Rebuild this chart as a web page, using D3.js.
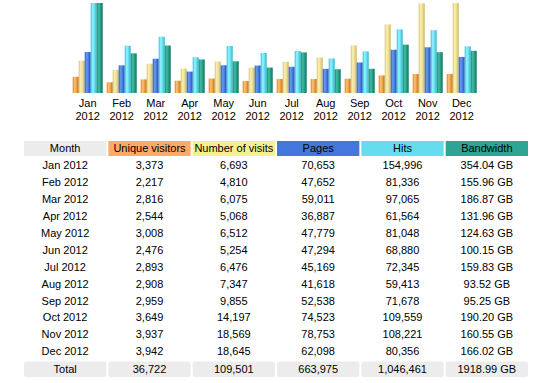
<!DOCTYPE html>
<html><head><meta charset="utf-8">
<script src="https://cdnjs.cloudflare.com/ajax/libs/d3/7.8.5/d3.min.js"></script>
<style>
html,body{margin:0;padding:0;background:#fff;}
svg text{font-family:"Liberation Sans",Arial,sans-serif;font-size:11px;fill:#000;}
</style></head>
<body><svg id="c" width="547" height="383"></svg>
<script>
const months = ["Jan","Feb","Mar","Apr","May","Jun","Jul","Aug","Sep","Oct","Nov","Dec"];
const year = "2012";
const visitors = [3373,2217,2816,2544,3008,2476,2893,2908,2959,3649,3937,3942];
const visits = [6693,4810,6075,5068,6512,5254,6476,7347,9855,14197,18569,18645];
const pages = [70653,47652,59011,36887,47779,47294,45169,41618,52538,74523,78753,62098];
const hits = [154996,81336,97065,61564,81048,68880,72345,59413,71678,109559,108221,80356];
const bandwidth = [354.04,155.96,186.87,131.96,124.63,100.15,159.83,93.52,95.25,190.20,160.55,166.02];
const headers = ["Month","Unique visitors","Number of visits","Pages","Hits","Bandwidth"];
const totals = ["Total","36,722","109,501","663,975","1,046,461","1918.99 GB"];

const svg = d3.select("#c");
const defs = svg.append("defs");
const grads = {
  u:["#d9862a","#fbc47a","#e8963c","#b86a1a"],
  v:["#d4c474","#faf2b4","#e6d888","#c4b464"],
  p:["#2f5fc8","#6d9af0","#3f70d8","#2850b0"],
  h:["#3cbcd4","#94f6ff","#5ad8ec","#34b4cc"],
  k:["#1a8a74","#44bca2","#1e9880","#0e6e5c"]
};
Object.entries(grads).forEach(([k,c])=>{
  const g = defs.append("linearGradient").attr("id","g"+k).attr("x1","0").attr("x2","1").attr("y1","0").attr("y2","0");
  [0,0.35,0.7,1].forEach((o,i)=>g.append("stop").attr("offset",o).attr("stop-color",c[i]));
});

const base = 93, H = 90;
const x = d3.scaleBand().domain(months).range([70.7, 70.7+12*34]).paddingInner(4/34).paddingOuter(2/34);
const sub = d3.scaleBand().domain(["u","v","p","h","k"]).range([0, x.bandwidth()]);
const yV = d3.scaleLinear().domain([0, d3.max(visits)]).range([0, H]);
const yH = d3.scaleLinear().domain([0, d3.max(hits)]).range([0, H]);
const yK = d3.scaleLinear().domain([0, d3.max(bandwidth)]).range([0, H]);
const series = [
  {k:"u", data:visitors, s:yV},
  {k:"v", data:visits, s:yV},
  {k:"p", data:pages, s:yH},
  {k:"h", data:hits, s:yH},
  {k:"k", data:bandwidth, s:yK}
];
const gBars = svg.append("g");
series.forEach(se=>{
  gBars.selectAll(null).data(months).enter().append("rect")
    .attr("x", (m)=>x(m)+sub(se.k))
    .attr("width", sub.bandwidth())
    .attr("y", (m,i)=>base - se.s(se.data[i]))
    .attr("height", (m,i)=>se.s(se.data[i]))
    .attr("fill", "url(#g"+se.k+")");
});
const lab = svg.append("g");
months.forEach(m=>{
  const cx = x(m)+x.bandwidth()/2;
  lab.append("text").attr("x",cx).attr("y",107).attr("text-anchor","middle").text(m);
  lab.append("text").attr("x",cx).attr("y",120).attr("text-anchor","middle").text(year);
});

// table
const colX = d3.scaleBand().domain(d3.range(6)).range([24, 24+6*84]).paddingInner(2/84).paddingOuter(0);
const hdrColors = ["#ececec","#ffaa66","#f4f090","#4477dd","#66ddee","#2ea495"];
const tbl = svg.append("g");
headers.forEach((h,i)=>{
  tbl.append("rect").attr("x",colX(i)).attr("y",141).attr("width",colX.bandwidth()).attr("height",15).attr("fill",hdrColors[i]);
  tbl.append("text").attr("x",colX(i)+colX.bandwidth()/2).attr("y",152).attr("text-anchor","middle").text(h);
});
const fmt = d3.format(",");
months.forEach((m,r)=>{
  const row = [m+" "+year, fmt(visitors[r]), fmt(visits[r]), fmt(pages[r]), fmt(hits[r]), bandwidth[r].toFixed(2)+" GB"];
  const yb = 169 + r*16.94;
  row.forEach((t,i)=>{
    tbl.append("text").attr("x",colX(i)+colX.bandwidth()/2).attr("y",yb).attr("text-anchor","middle").text(t);
  });
});
totals.forEach((t,i)=>{
  tbl.append("rect").attr("x",colX(i)).attr("y",361.5).attr("width",colX.bandwidth()).attr("height",15.5).attr("rx",2).attr("fill","#ececec");
  tbl.append("text").attr("x",colX(i)+colX.bandwidth()/2).attr("y",373).attr("text-anchor","middle").text(t);
});
</script></body></html>
